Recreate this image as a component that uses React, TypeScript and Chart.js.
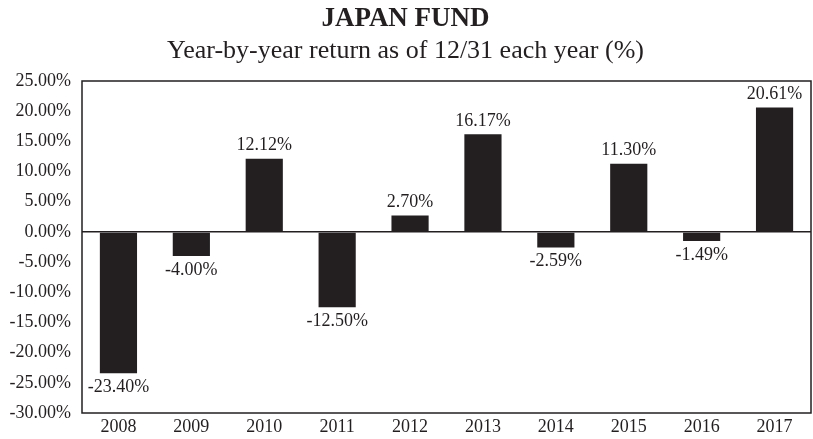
import React, { useEffect, useRef } from "react";
import { Chart, registerables } from "chart.js";

Chart.register(...registerables);

const years = ["2008", "2009", "2010", "2011", "2012", "2013", "2014", "2015", "2016", "2017"];
const returns = [-23.4, -4.0, 12.12, -12.5, 2.7, 16.17, -2.59, 11.3, -1.49, 20.61];
const returnLabels = ["-23.40%", "-4.00%", "12.12%", "-12.50%", "2.70%", "16.17%", "-2.59%", "11.30%", "-1.49%", "20.61%"];
const yMin = -30;
const yMax = 25;
const yStep = 5;

const INK = "#231f20";
const FONT = "'Liberation Serif', 'Times New Roman', serif";

const boxPlugin = {
  id: "boxPlugin",
  afterDraw(chart: any) {
    const { ctx, chartArea } = chart;
    ctx.save();
    ctx.strokeStyle = INK;
    ctx.lineWidth = 1.5;
    ctx.strokeRect(chartArea.left, chartArea.top, chartArea.right - chartArea.left, chartArea.bottom - chartArea.top);
    ctx.restore();
  },
};

const labelPlugin = {
  id: "labelPlugin",
  afterDatasetsDraw(chart: any) {
    const { ctx } = chart;
    const meta = chart.getDatasetMeta(0);
    ctx.save();
    ctx.fillStyle = INK;
    ctx.font = `18px ${FONT}`;
    ctx.textAlign = "center";
    meta.data.forEach((bar: any, i: number) => {
      const v = returns[i];
      const text = returnLabels[i];
      if (v >= 0) {
        ctx.textBaseline = "bottom";
        ctx.fillText(text, bar.x, bar.y - 4);
      } else {
        ctx.textBaseline = "top";
        ctx.fillText(text, bar.x, bar.y + 5);
      }
    });
    ctx.restore();
  },
};

export default function App() {
  const ref = useRef<HTMLCanvasElement | null>(null);

  useEffect(() => {
    document.body.style.margin = "0";
    const canvas = ref.current;
    if (!canvas) return;
    const chart = new Chart(canvas, {
      type: "bar",
      data: {
        labels: years,
        datasets: [
          {
            data: returns,
            backgroundColor: INK,
            borderWidth: 0,
            barPercentage: 0.51,
            categoryPercentage: 1,
          },
        ],
      },
      options: {
        animation: false,
        responsive: false,
        devicePixelRatio: 1,
        layout: { padding: { left: 0, right: 2, top: 0, bottom: 0 } },
        plugins: {
          legend: { display: false },
          tooltip: { enabled: false },
          title: {
            display: true,
            text: "JAPAN FUND",
            color: INK,
            font: { family: FONT, size: 27, weight: "bold", lineHeight: 1.2 },
            padding: { top: 3, bottom: 0 },
          },
          subtitle: {
            display: true,
            text: "Year-by-year return as of 12/31 each year (%)",
            color: INK,
            font: { family: FONT, size: 26, weight: "normal", lineHeight: 1.2 },
            padding: { top: 0, bottom: 14.4 },
          },
        },
        scales: {
          x: {
            grid: { display: false, drawTicks: false },
            border: { display: false },
            ticks: {
              color: INK,
              font: { family: FONT, size: 18 },
              padding: 3,
              maxRotation: 0,
            },
            afterFit(scale: any) {
              scale.height = 26;
            },
          },
          y: {
            min: yMin,
            max: yMax,
            grid: {
              drawTicks: false,
              color: (c: any) => (c.tick && c.tick.value === 0 ? INK : "rgba(0,0,0,0)"),
              lineWidth: 1.5,
            },
            border: { display: false },
            ticks: {
              stepSize: yStep,
              color: INK,
              font: { family: FONT, size: 18 },
              padding: 11,
              callback: (v: any) => Number(v).toFixed(2) + "%",
            },
            afterFit(scale: any) {
              scale.width = 82;
            },
          },
        },
      },
      plugins: [boxPlugin, labelPlugin],
    } as any);
    return () => chart.destroy();
  }, []);

  return <canvas ref={ref} width={813} height={439} style={{ display: "block" }} />;
}
